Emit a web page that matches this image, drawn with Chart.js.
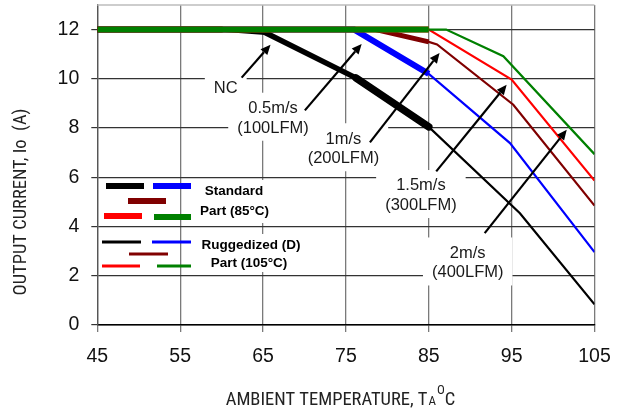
<!DOCTYPE html>
<html><head><meta charset="utf-8">
<script src="https://cdn.jsdelivr.net/npm/chart.js@4/dist/chart.umd.min.js"></script>
<style>html,body{margin:0;padding:0;background:#fff}#wrap{width:625px;height:412px}</style>
</head><body><div id="wrap"><canvas id="c" width="625" height="412"></canvas></div>
<script>
// ---- data ----
const xTicks = [45, 55, 65, 75, 85, 95, 105];
const yTicks = [0, 2, 4, 6, 8, 10, 12];

// Standard part (85°C) – thick curves
const stdNC_T = [45, 60, 65.3, 76.2, 85];
const stdNC_I = [12, 12, 11.87, 10.04, 8.05];
const std05_T = [45, 76, 85];
const std05_I = [12, 12, 10.2];
const std1_T = [45, 78.6, 85];
const std1_I = [12, 12, 11.5];
const std15_T = [45, 85];
const std15_I = [12, 12];
const std2_T = [45, 85];
const std2_I = [12, 12];

// Ruggedized (D) part (105°C) – thin curves
const rugNC_T = [45, 60, 65.3, 76.2, 85, 96, 105];
const rugNC_I = [12, 12, 11.87, 10.04, 8.05, 4.54, 0.84];
const rug05_T = [45, 76, 85, 94.8, 105];
const rug05_I = [12, 12, 10.2, 7.39, 2.96];
const rug1_T = [45, 78.6, 85, 86, 95.2, 105];
const rug1_I = [12, 12, 11.5, 11.4, 8.95, 4.85];
const rug15_T = [45, 85, 95, 105];
const rug15_I = [12, 12, 9.97, 5.87];
const rug2_T = [45, 87.1, 94, 105];
const rug2_I = [12, 12, 10.92, 6.94];

// airflow annotations
const noteText = [['NC'], ['0.5m/s', '(100LFM)'], ['1m/s', '(200LFM)'], ['1.5m/s', '(300LFM)'], ['2m/s', '(400LFM)']];
const noteT = [60.5, 66.2, 74.7, 84.05, 89.7];
const noteI = [9.6, 8.4, 7.16, 5.26, 2.52];
const arrowFromT = [62.42, 70.05, 77.9, 85.9, 91.75];
const arrowFromI = [10.05, 8.72, 7.42, 6.24, 3.73];
const arrowToT = [65.9, 76.9, 86.3, 94.4, 101.65];
const arrowToI = [11.39, 11.42, 11.05, 9.76, 7.93];

const legendStdText = ['Standard', 'Part (85°C)'];
const legendRugText = ['Ruggedized (D)', 'Part (105°C)'];
const xTitleParts = ['AMBIENT TEMPERATURE, T', 'A', 'O', 'C'];
const yTitle = 'OUTPUT CURRENT, Io  (A)';

// ---- styles ----
const COL = {nc: '#000000', a05: '#0000ff', a1: '#800000', a15: '#ff0000', a2: '#008000'};
const THICK = 6, THIN = 2.2;
const NC_SEG_W = [6, 4.5, 5.5, 7.5];   // thick NC curve grows heavier toward 85°C

function pts(T, I) { return T.map((t, k) => ({x: t, y: I[k]})); }
function ds(T, I, color, w, order) {
  return {data: pts(T, I), borderColor: color, backgroundColor: color, borderWidth: w,
    pointRadius: 0, tension: 0, fill: false, order: order, borderCapStyle: 'butt', borderJoinStyle: 'miter'};
}

const ncThick = ds(stdNC_T, stdNC_I, COL.nc, THICK, 4);
ncThick.borderCapStyle = 'round';
ncThick.segment = {borderWidth: c => NC_SEG_W[c.p0DataIndex]};

const datasets = [
  ds(rugNC_T, rugNC_I, COL.nc, THIN, 20),
  ds(rug05_T, rug05_I, COL.a05, THIN, 19),
  ds(rug1_T, rug1_I, COL.a1, THIN, 18),
  ds(rug15_T, rug15_I, COL.a15, THIN, 17),
  ds(rug2_T, rug2_I, COL.a2, THIN, 16),
  ds(std05_T, std05_I, COL.a05, THICK, 6),
  ds(std1_T, std1_I, COL.a1, 5, 5),
  ncThick,
  ds(std15_T, std15_I, COL.a15, THICK, 3),
  ds(std2_T, std2_I, COL.a2, THICK, 1)
];

const NOTE_FONT = '16.5px "Liberation Sans", Arial, sans-serif';
const LEG_FONT = 'bold 13.5px "Liberation Sans", Arial, sans-serif';
const TITLE_FONT = '18.5px "Liberation Sans Narrow", "Arial Narrow", "Roboto Condensed", sans-serif';
const TITLE_SMALL = '13px "Liberation Sans Narrow", "Arial Narrow", "Roboto Condensed", sans-serif';
const LINE_H = 19.5;

// legend swatches (pixel layout of the hand-drawn legend box)
const legSw = [
  [106, 144, 186, COL.nc, THICK], [153, 191, 186, COL.a05, THICK], [128, 166, 201, COL.a1, THICK],
  [104, 142, 216, COL.a15, THICK], [154, 191, 217, COL.a2, THICK],
  [102, 141, 242, COL.nc, 3], [152, 191, 242, COL.a05, 3], [129, 168, 254, COL.a1, 3],
  [102, 140, 266, COL.a15, 3], [157, 191, 266, COL.a2, 3]
];

function noteBoxes(chart, ctx) {
  const xs = chart.scales.x, ys = chart.scales.y;
  ctx.font = NOTE_FONT;
  return noteText.map((lines, k) => {
    const cx = xs.getPixelForValue(noteT[k]), cy = ys.getPixelForValue(noteI[k]);
    const w = Math.max(...lines.map(s => ctx.measureText(s).width));
    const h = lines.length * LINE_H;
    return {cx, cy, w, h, lines};
  });
}

const decor = {
  id: 'decor',
  beforeDatasetsDraw(chart) {
    const ctx = chart.ctx, a = chart.chartArea;
    ctx.save();
    // top border
    ctx.strokeStyle = '#bdbdbd'; ctx.lineWidth = 1.5;
    ctx.beginPath(); ctx.moveTo(a.left, a.top); ctx.lineTo(a.right, a.top); ctx.stroke();
    // white boxes behind notes
    ctx.fillStyle = '#ffffff';
    noteBoxes(chart, ctx).forEach(b => {
      ctx.fillRect(b.cx - b.w / 2 - 9, b.cy - b.h / 2 - 6, b.w + 18, b.h + 9);
    });
    // white boxes behind legend text
    ctx.fillRect(197, 180, 76, 43);
    ctx.fillRect(196, 234, 110, 38);
    ctx.restore();
  },
  afterDatasetsDraw(chart) {
    const ctx = chart.ctx, xs = chart.scales.x, ys = chart.scales.y;
    ctx.save();
    // arrows
    ctx.strokeStyle = '#000'; ctx.fillStyle = '#000'; ctx.lineWidth = 2.2;
    for (let k = 0; k < arrowFromT.length; k++) {
      const x0 = xs.getPixelForValue(arrowFromT[k]), y0 = ys.getPixelForValue(arrowFromI[k]);
      const x1 = xs.getPixelForValue(arrowToT[k]), y1 = ys.getPixelForValue(arrowToI[k]);
      const ang = Math.atan2(y1 - y0, x1 - x0), L = 10, W = 4.5;
      const bx = x1 - L * Math.cos(ang), by = y1 - L * Math.sin(ang);
      ctx.beginPath(); ctx.moveTo(x0, y0); ctx.lineTo(bx, by); ctx.stroke();
      ctx.beginPath(); ctx.moveTo(x1, y1);
      ctx.lineTo(bx + W * Math.sin(ang), by - W * Math.cos(ang));
      ctx.lineTo(bx - W * Math.sin(ang), by + W * Math.cos(ang));
      ctx.closePath(); ctx.fill();
    }
    // note text
    ctx.fillStyle = '#1a1a1a'; ctx.textAlign = 'center'; ctx.textBaseline = 'middle';
    noteBoxes(chart, ctx).forEach(b => {
      ctx.font = NOTE_FONT;
      b.lines.forEach((s, j) => {
        ctx.fillText(s, b.cx, b.cy - b.h / 2 + LINE_H * (j + 0.5));
      });
    });
    // legend
    legSw.forEach(s => {
      ctx.strokeStyle = s[3]; ctx.lineWidth = s[4]; ctx.lineCap = 'butt';
      ctx.beginPath(); ctx.moveTo(s[0], s[2]); ctx.lineTo(s[1], s[2]); ctx.stroke();
    });
    ctx.fillStyle = '#000'; ctx.font = LEG_FONT; ctx.textAlign = 'center';
    ctx.fillText(legendStdText[0], 234, 191);
    ctx.fillText(legendStdText[1], 234.5, 211);
    ctx.fillText(legendRugText[0], 251, 245.5);
    ctx.fillText(legendRugText[1], 249, 263);
    ctx.restore();
  },
  afterDraw(chart) {
    const ctx = chart.ctx;
    ctx.save();
    ctx.fillStyle = '#222';
    // y title
    ctx.font = TITLE_FONT; ctx.textAlign = 'center'; ctx.textBaseline = 'middle';
    ctx.translate(21.5, 202); ctx.rotate(-Math.PI / 2);
    ctx.fillText(yTitle, 0, 0);
    ctx.setTransform(1, 0, 0, 1, 0, 0);
    // x title with subscript / superscript
    ctx.textAlign = 'left'; ctx.textBaseline = 'alphabetic';
    const fonts = [TITLE_FONT, TITLE_SMALL, TITLE_SMALL, TITLE_FONT];
    const dys = [0, 0, -11, 0];
    const gaps = [0, 1, 1, 0];
    let widths = xTitleParts.map((s, k) => { ctx.font = fonts[k]; return ctx.measureText(s).width; });
    let total = widths.reduce((p, c) => p + c, 0) + gaps.reduce((p, c) => p + c, 0);
    let x = 340.5 - total / 2;
    xTitleParts.forEach((s, k) => {
      ctx.font = fonts[k];
      x += gaps[k];
      ctx.fillText(s, x, 405 + dys[k]);
      x += widths[k];
    });
    ctx.restore();
  }
};

new Chart(document.getElementById('c'), {
  type: 'line',
  data: {datasets},
  options: {
    responsive: false, animation: false, devicePixelRatio: 1,
    layout: {padding: {left: 0, right: 30.5, top: 5, bottom: 0}},
    plugins: {legend: {display: false}, tooltip: {enabled: false}},
    scales: {
      x: {
        type: 'linear', min: 45, max: 105,
        afterBuildTicks: s => { s.ticks = xTicks.map(v => ({value: v})); },
        afterFit: s => { s.height = 87; s.paddingLeft = 0; s.paddingRight = 0; },
        grid: {color: '#7a7a7a', lineWidth: 1.3, tickLength: 7, drawTicks: true},
        border: {color: '#000', width: 1.5},
        ticks: {font: {family: '"Liberation Sans", Arial, sans-serif', size: 19.5}, color: '#111', padding: 13, maxRotation: 0}
      },
      y: {
        type: 'linear', min: 0, max: 13,
        afterBuildTicks: s => { s.ticks = yTicks.map(v => ({value: v})); },
        afterFit: s => { s.width = 97.3; s.paddingTop = 0; s.paddingBottom = 0; },
        grid: {color: '#333', lineWidth: 1.2, tickLength: 6, drawTicks: true},
        border: {color: '#555', width: 1.3},
        ticks: {font: {family: '"Liberation Sans", Arial, sans-serif', size: 19.5}, color: '#111', padding: 12}
      }
    }
  },
  plugins: [decor]
});
</script>
</body></html>
